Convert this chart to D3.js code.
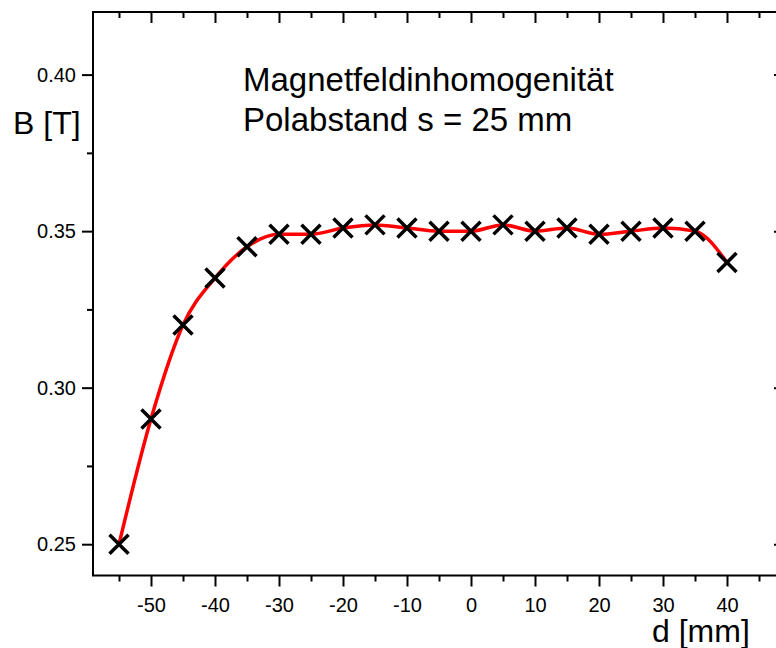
<!DOCTYPE html>
<html>
<head>
<meta charset="utf-8">
<script src="https://cdn.jsdelivr.net/npm/d3@7"></script>
<style>
  html, body { margin: 0; padding: 0; background: #fff; }
  svg { display: block; font-family: 'Liberation Sans', Arial, sans-serif; }
</style>
</head>
<body>
<svg id="chart"></svg>
<script>
'use strict';

// measured field along the gap, d in mm, B in tesla
var positions = [-55, -50, -45, -40, -35, -30, -25, -20, -15, -10, -5, 0, 5, 10, 15, 20, 25, 30, 35, 40];
var fieldT = [0.250, 0.290, 0.320, 0.335, 0.345, 0.349, 0.349, 0.351, 0.352, 0.351,
              0.350, 0.350, 0.352, 0.350, 0.351, 0.349, 0.350, 0.351, 0.350, 0.340];

var xMajor = [-50, -40, -30, -20, -10, 0, 10, 20, 30, 40];
var xMinor = [-55, -45, -35, -25, -15, -5, 5, 15, 25, 35, 45];
var yMajor = [0.25, 0.30, 0.35, 0.40];
var yMinor = [0.275, 0.325, 0.375];

var titleLines = ['Magnetfeldinhomogenität', 'Polabstand s = 25 mm'];

var width = 776;
var height = 648;
var plot = { left: 93, right: 785, top: 12, bottom: 575.5 };

var svg = d3.select('#chart')
  .attr('width', width)
  .attr('height', height);

var x = d3.scaleLinear().domain([-59.0625, 49.0625]).range([plot.left, plot.right]);
var y = d3.scaleLinear().domain([0.24, 0.42]).range([plot.bottom, plot.top]);

function styleAxis(g) {
  g.select('.domain').remove();
  g.selectAll('.tick line').attr('stroke', '#000').attr('stroke-width', 2);
  g.selectAll('.tick text')
    .attr('fill', '#000')
    .style('font-size', '20px')
    .style('font-family', "'Liberation Sans', Arial, sans-serif");
}

// plain hyphen for negatives, like the original plot
function plainInt(d) { return String(d); }

// bottom axis (outward ticks, labelled)
svg.append('g')
  .attr('transform', 'translate(0,' + plot.bottom + ')')
  .call(d3.axisBottom(x).tickValues(xMajor).tickSize(11).tickPadding(11).tickFormat(plainInt))
  .call(styleAxis);
svg.append('g')
  .attr('transform', 'translate(0,' + plot.bottom + ')')
  .call(d3.axisBottom(x).tickValues(xMinor).tickSize(6).tickFormat(''))
  .call(styleAxis);

// top axis (inward ticks)
svg.append('g')
  .attr('transform', 'translate(0,' + plot.top + ')')
  .call(d3.axisTop(x).tickValues(xMajor).tickSize(-11).tickFormat(''))
  .call(styleAxis);
svg.append('g')
  .attr('transform', 'translate(0,' + plot.top + ')')
  .call(d3.axisTop(x).tickValues(xMinor).tickSize(-6).tickFormat(''))
  .call(styleAxis);

// left axis (outward ticks, labelled)
svg.append('g')
  .attr('transform', 'translate(' + plot.left + ',0)')
  .call(d3.axisLeft(y).tickValues(yMajor).tickSize(11).tickPadding(6).tickFormat(d3.format('.2f')))
  .call(styleAxis);
svg.append('g')
  .attr('transform', 'translate(' + plot.left + ',0)')
  .call(d3.axisLeft(y).tickValues(yMinor).tickSize(6).tickFormat(''))
  .call(styleAxis);

// right axis (inward ticks)
svg.append('g')
  .attr('transform', 'translate(' + plot.right + ',0)')
  .call(d3.axisRight(y).tickValues(yMajor).tickSize(-11).tickFormat(''))
  .call(styleAxis);
svg.append('g')
  .attr('transform', 'translate(' + plot.right + ',0)')
  .call(d3.axisRight(y).tickValues(yMinor).tickSize(-6).tickFormat(''))
  .call(styleAxis);

// frame
svg.append('rect')
  .attr('x', plot.left)
  .attr('y', plot.top)
  .attr('width', plot.right - plot.left)
  .attr('height', plot.bottom - plot.top)
  .attr('fill', 'none')
  .attr('stroke', '#000')
  .attr('stroke-width', 2);

var points = positions.map(function(d, i) {
  return { d: d, b: fieldT[i] };
});

var line = d3.line()
  .x(function(p) { return x(p.d); })
  .y(function(p) { return y(p.b); })
  .curve(d3.curveMonotoneX);

svg.append('path')
  .datum(points)
  .attr('fill', 'none')
  .attr('stroke', '#ff0000')
  .attr('stroke-width', 3.5)
  .attr('d', line);

var s = 9.5;
svg.append('g')
  .selectAll('path')
  .data(points)
  .enter()
  .append('path')
  .attr('transform', function(p) { return 'translate(' + x(p.d) + ',' + y(p.b) + ')'; })
  .attr('d', 'M' + -s + ',' + -s + 'L' + s + ',' + s + 'M' + -s + ',' + s + 'L' + s + ',' + -s)
  .attr('fill', 'none')
  .attr('stroke', '#000')
  .attr('stroke-width', 3.5);

// annotation
svg.append('g')
  .selectAll('text')
  .data(titleLines)
  .enter()
  .append('text')
  .attr('x', 243)
  .attr('y', function(d, i) { return 91 + i * 40; })
  .style('font-size', '33px')
  .text(function(d) { return d; });

// axis titles
svg.append('text')
  .attr('x', 13)
  .attr('y', 134)
  .style('font-size', '32px')
  .text('B [T]');

svg.append('text')
  .attr('x', 652)
  .attr('y', 642)
  .style('font-size', '32px')
  .text('d [mm]');
</script>
</body>
</html>
